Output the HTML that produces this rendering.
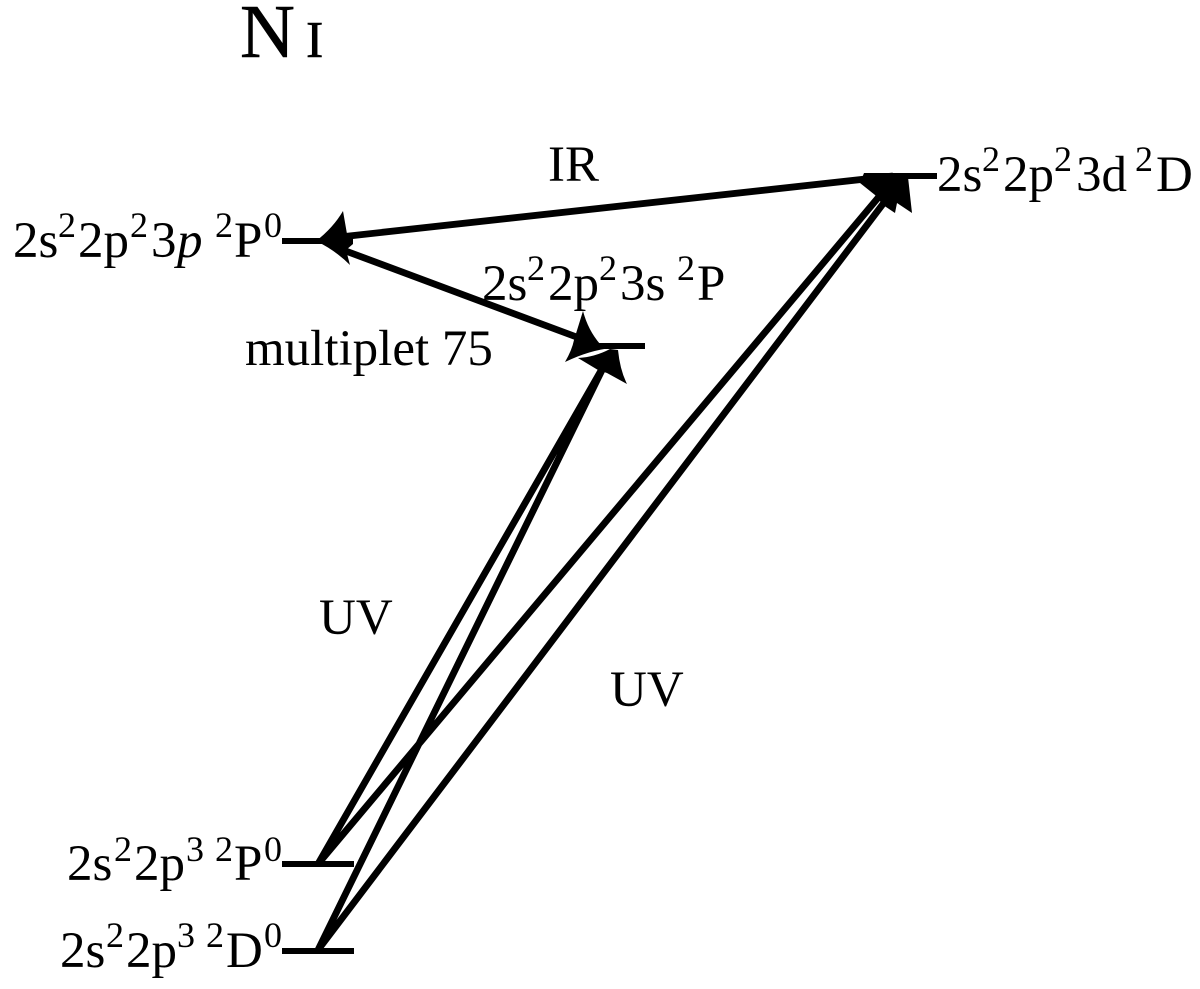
<!DOCTYPE html>
<html>
<head>
<meta charset="utf-8">
<style>
html,body{margin:0;padding:0;background:#fff;}
svg{display:block;}
text{font-family:"Liberation Serif",serif;fill:#000;font-size:51px;}
.s{font-size:36px;}
</style>
</head>
<body>
<svg width="1200" height="989" viewBox="0 0 1200 989" xmlns="http://www.w3.org/2000/svg">
<rect width="1200" height="989" fill="#fff"/>
<g stroke="#000" stroke-width="6" fill="none">
<path d="M282 241H340M590 346H645M864 176H937M282 864H354M282 951H354"/>
</g>
<g stroke="#000" stroke-width="6.8" fill="none">
<path d="M893 176L340 237M335 247L590 342"/>
<path d="M318 864L606 362M318 950L606 362M318 864L888 186M318 950L892 192"/>
</g>
<g fill="#000">
<path d="M316 241Q333 228 343 211L347 234L353 235V244L346 250L350 265Q335 250 316 241Z"/>
<path d="M583 311Q588 330 600 344L612 348Q590 350 565 362Q572 350 574 340Z"/>
<path d="M578 358Q595 357 610 349L618 350Q620 370 627 384L607 373L598 370Z"/>
<path d="M864 173H908V177L912 213L897 203L895 213L883 205L875 195L860 183Z"/>
</g>
<text x="240" y="57" style="font-size:76px" stroke="#000" stroke-width=".6">N</text>
<text x="306" y="57" style="font-size:52px" stroke="#000" stroke-width=".6">I</text>
<text x="548" y="181">IR</text>
<text x="245" y="365">multiplet 75</text>
<text x="319" y="634">UV</text>
<text x="610" y="706">UV</text>

<text x="13" y="257">2s</text><text class="s" x="58" y="237">2</text><text x="78" y="257">2p</text><text class="s" x="130" y="237">2</text><text x="151" y="257">3</text><text x="177" y="257" font-style="italic">p</text><text class="s" x="215" y="237">2</text><text x="234" y="257">P</text><text class="s" x="264" y="237">0</text>

<text x="482" y="300">2s</text><text class="s" x="527" y="280">2</text><text x="548" y="300">2p</text><text class="s" x="599" y="280">2</text><text x="620" y="300">3s</text><text class="s" x="677" y="280">2</text><text x="697" y="300">P</text>

<text x="937" y="191">2s</text><text class="s" x="982" y="171">2</text><text x="1003" y="191">2p</text><text class="s" x="1054" y="171">2</text><text x="1076" y="191">3d</text><text class="s" x="1135" y="171">2</text><text x="1156" y="191">D</text>

<text x="67" y="880">2s</text><text class="s" x="114" y="861">2</text><text x="134" y="880">2p</text><text class="s" x="186" y="861">3</text><text class="s" x="215" y="861">2</text><text x="234" y="880">P</text><text class="s" x="264" y="861">0</text>

<text x="60" y="967">2s</text><text class="s" x="106" y="947">2</text><text x="126" y="967">2p</text><text class="s" x="177" y="947">3</text><text class="s" x="206" y="947">2</text><text x="226" y="967">D</text><text class="s" x="264" y="947">0</text>
</svg>
</body>
</html>
